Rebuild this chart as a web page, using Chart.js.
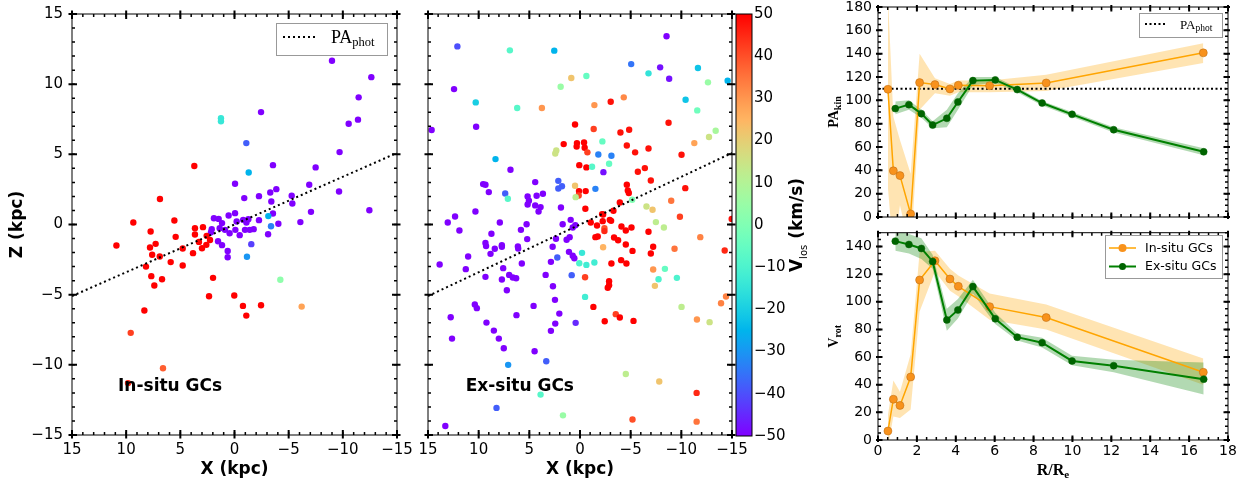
<!DOCTYPE html>
<html>
<head>
<meta charset="utf-8">
<script src="https://cdn.jsdelivr.net/npm/chart.js@4.4.1/dist/chart.umd.min.js"></script>
<style>
  html, body { margin: 0; padding: 0; background: #fff; }
  #wrap { position: relative; width: 1247px; height: 481px; overflow: hidden; }
  canvas { position: absolute; }
</style>
</head>
<body>
<div id="wrap">
  <canvas id="insitu" width="420" height="481" style="left:0;top:0"></canvas>
  <canvas id="exsitu" width="350" height="481" style="left:405px;top:0"></canvas>
  <canvas id="cbar" width="87" height="481" style="left:735px;top:0"></canvas>
  <canvas id="pakin" width="425" height="228" style="left:822px;top:0"></canvas>
  <canvas id="vrot" width="425" height="253" style="left:822px;top:228px"></canvas>
</div>
<script>
// ---- In-situ GCs: projected position (kpc) and line-of-sight velocity (km/s)
const insituX = [-9.0,-12.63,-11.46,-10.54,-11.4,-2.45,-9.7,-3.55,-7.49,-0.05,
  -6.9,-2.26,-0.9,-3.3,-3.86,-3.4,-5.28,-5.34,-9.65,-7.06,
  -12.45,-3.55,-4.05,-6.08,-2.26,-3.1,0.54,-0.05,1.9,1.46,
  1.15,-0.2,-0.8,-1.28,2.1,2.17,1.37,0.88,0.45,-0.08,
  -0.48,-0.97,-1.4,-1.77,-1.1,1.52,1.15,0.63,0.63,-1.55,
  1.25,1.25,-1.09,-1.31,-3.12,-3.37,-1.15,-4.23,-6.2,6.6,9.83,9.58,
  3.71,6.88,9.34,10.9,5.55,7.74,3.65,3.65,2.91,5.43,
  7.8,7.28,7.6,6.9,4.78,3.28,3.83,2.57,2.26,2.6,
  3.0,5.89,4.78,8.17,7.68,7.4,6.69,1.98,2.35,0.02,
  -0.78,-1.09,-2.45,8.32];
const insituZ = [11.67,10.5,9.06,7.18,7.47,8.01,5.16,4.23,4.07,2.9,
  2.83,2.02,1.88,2.28,2.52,1.64,2.05,1.5,2.35,0.9,
  1.02,0.78,0.05,0.17,0.31,-0.69,0.64,0.81,0.45,0.4,
  0.1,0.21,0.33,0.38,-0.33,-0.55,-0.26,-0.38,-0.62,-0.38,
  -0.76,-0.38,-0.38,-0.33,0.14,-1.19,-1.47,-1.88,-2.33,-1.40,
  7.58,7.35,5.8,3.71,0.6,-0.12,-2.3,-3.94,-5.85,-10.24,-11.3,-7.72,
  4.17,1.82,0.14,-1.5,0.29,-0.5,-0.26,-0.71,-0.19,-0.88,
  -1.64,-1.38,-2.16,-2.28,-1.71,-1.24,-2.04,-0.81,-1.1,-1.45,
  -1.69,-2.68,-2.92,-3.0,-3.68,-4.35,-3.9,-3.8,-5.11,-5.06,
  -5.8,-6.49,-5.75,-6.13];
const insituV = [-50,-50,-50,-50,-50,-50,-50,-50,-50,-50,
  -50,-50,-50,-50,-50,-50,-50,-50,-50,-50,
  -50,-50,-50,-50,-50,-50,-50,-50,-50,-50,
  -50,-50,-50,-50,-50,-50,-50,-50,-50,-50,
  -50,-50,-50,-50,-50,-50,-50,-50,-50,-42,
  -14,-14,-38,-25,-25,-33,-30,3,28,38,45,42,
  50,50,50,50,50,50,50,50,50,50,
  50,50,50,50,50,50,50,50,50,50,
  50,50,50,50,50,50,50,50,50,50,
  50,50,50,50];

// ---- Ex-situ GCs
const exsituX = [12.1,6.92,2.54,-8.54,-5.05,-7.91,-8.8,-6.76,-11.64,-12.63,
  -14.57,0.86,-0.63,1.91,12.43,10.29,6.2,3.76,-1.42,-3.03,
  -4.32,-10.42,-11.57,10.25,14.64,0.49,-1.35,-3.99,-4.85,-8.74,
  -13.39,-12.73,-11.28,1.61,0.3,0.33,-0.4,-0.46,-0.73,-2.21,
  2.34,2.44,-1.81,-3.1,-4.62,-5.44,-6.76,-10.02,8.34,0.07,
  -0.63,-1.19,-2.87,-2.31,-5.71,-6.4,-6.99,6.86,9.56,9.33,
  9.0,4.42,2.14,2.14,1.78,0.49,7.38,7.12,5.17,4.28,
  3.66,5.04,5.17,4.42,3.89,4.09,1.88,0.1,-0.56,0.13,
  0.43,-1.52,-0.53,-4.62,-4.72,-4.82,-3.93,-3.3,-2.18,-5.15,
  -9.0,-6.56,-7.16,-10.39,10.32,12.33,13.05,11.9,7.91,5.27,
  5.83,1.71,0.92,0.72,0.46,-1.06,-1.68,-2.24,-2.28,-2.94,
  -3.07,-2.41,-2.41,-4.09,-4.52,-5.08,-6.76,-7.49,-8.28,-9.86,
  -14.97,8.74,5.21,2.37,1.32,1.02,-1.52,-1.75,-3.36,-3.76,
  9.33,9.27,8.41,7.71,7.71,8.83,6.13,6.1,2.7,1.09,
  0.72,0.56,-2.28,-4.52,-5.18,-7.22,-6.99,-9.33,-11.87,-14.28,
  11.04,13.85,11.27,7.58,5.74,2.87,-0.2,0.07,-0.63,-1.42,
  2.24,0.82,-3.1,-4.06,-4.58,9.33,7.71,6.99,6.63,6.3,
  3.39,7.22,2.67,-0.5,-2.87,-2.87,-2.74,-7.22,-8.38,-7.75,
  -7.39,-9.56,-0.5,10.38,10.18,12.76,4.58,2.47,6.27,2.04,
  9.23,2.44,0.43,8.5,2.87,8.01,12.63,7.52,4.48,3.33,
  7.09,-1.32,-3.53,-3.93,-2.44,-5.28,-10.02,-11.54,-12.79,-13.92,
  -14.41,-4.52,-7.82,-11.51,3.89,8.24,1.68,-5.18,-11.51,13.29];
const exsituZ = [12.69,12.41,12.39,13.41,11.43,11.2,10.39,10.77,11.15,10.13,
  10.25,10.44,10.58,9.82,9.65,8.7,8.3,8.3,8.51,8.75,
  9.06,8.89,8.13,6.97,6.73,7.13,6.8,6.56,6.75,7.25,
  6.68,6.23,5.8,5.73,5.8,5.56,5.85,5.47,5.14,5.92,
  5.28,5.06,4.99,4.9,5.63,5.14,5.42,4.97,4.66,4.23,
  4.07,4.11,4.33,3.73,3.76,4.02,3.14,3.9,2.88,2.83,
  2.31,3.02,3.11,2.57,2.73,2.76,2.21,1.83,2.0,2.05,
  2.19,1.69,1.43,1.36,1.24,0.93,1.21,2.38,2.38,2.07,
  1.95,2.54,1.12,2.83,2.43,2.24,1.57,0.98,0.74,1.76,
  1.69,1.28,1.05,2.59,0.93,0.57,0.14,-0.43,0.14,0.02,
  -0.38,0.02,0.33,-0.21,-0.05,0.14,-0.07,0.24,0.71,0.33,
  0.26,-0.26,-0.47,-0.14,-0.43,-0.21,-0.52,0.17,-0.21,0.55,
  0.4,-0.66,-1.04,-1.02,-1.09,-0.9,-0.9,-0.85,-0.93,-1.12,
  -1.31,-1.54,-1.73,-1.47,-1.59,-2.09,-1.57,-1.71,-1.59,-1.95,
  -2.23,-2.4,-1.62,-1.43,-1.88,-1.59,-2.07,-1.73,-0.9,-1.85,
  -2.28,-2.85,-3.18,-3.11,-2.78,-2.66,-2.02,-2.76,-2.88,-2.71,
  -2.35,-3.61,-2.78,-2.54,-2.78,-3.73,-3.92,-3.59,-3.78,-3.83,
  -3.59,-4.68,-4.4,-3.76,-4.04,-4.33,-4.51,-3.21,-3.16,-3.9,
  -4.37,-3.8,-5.16,-5.7,-5.96,-6.61,-5.8,-5.37,-6.46,-6.35,
  -6.99,-7.06,-7.01,-7.56,-7.58,-8.13,-8.13,-8.82,-9.03,-9.74,
  -10.0,-5.87,-6.39,-6.63,-6.89,-6.87,-5.87,-6.77,-6.96,-5.61,
  -5.13,-10.65,-11.19,-12.0,-12.12,-13.07,-13.6,-13.9,-14.05,-14.36];
const exsituV = [-40,-8,-25,-50,-35,-48,-48,-15,-22,5,
  -25,22,-5,5,-50,-20,-8,30,30,48,
  32,-22,-3,-50,-50,50,42,48,48,48,
  8,15,28,50,50,50,50,50,42,-5,
  15,15,-33,-33,48,48,48,48,-25,50,
  50,-8,-5,-48,48,48,48,-50,-50,-50,
  -50,-50,-38,-38,-38,22,-38,-8,-50,-50,
  -50,-50,-50,-50,-50,-50,-50,50,50,42,
  12,-33,50,50,50,50,50,50,50,0,
  35,15,22,48,-50,-50,-50,-50,-50,-50,
  -50,-50,-50,-50,-50,50,50,50,50,50,
  50,40,45,50,50,50,50,12,12,42,
  48,-50,-50,-50,-50,-50,50,50,50,50,
  -50,-50,-50,-50,-50,-50,-50,-50,-50,-50,
  -50,-50,25,50,50,50,50,35,33,45,
  -50,-50,-50,-50,-50,-50,-14,-10,-12,-12,
  -38,-38,50,50,50,-50,-50,-50,-50,-50,
  -50,-50,-50,42,50,50,50,30,-5,-10,
  22,-10,-12,-50,-50,-50,-50,-50,-50,-50,
  -50,-50,-45,-50,-50,-50,-50,-50,-50,-38,
  -30,50,42,50,50,50,12,30,15,33,
  33,12,22,45,-8,-38,5,40,35,-50];

// photometric major axis, drawn across the map
const paPhotX = [15, -15];
const paPhotZ = [-5.1, 5.1];
const vMin = -50, vMax = 50;

// ---- kinematic profiles against R/Re
const rInsitu = [0.51, 0.79, 1.13, 1.68, 2.14, 2.93, 3.70, 4.13, 5.74, 8.65, 16.73];
const paInsitu = [109.5, 39.6, 35.5, 2.6, 115.2, 113.5, 109.8, 112.9, 112.6, 114.9, 140.7];
const paInsituLo = [25, -30, 10, -30, 92, 106, 104, 107, 107, 108, 132];
const paInsituHi = [190, 86, 66, 37, 140, 119, 114, 117, 117, 122, 149];
const vrotInsitu = [6.5, 29.5, 25.0, 45.6, 115.8, 129.7, 116.5, 111.2, 96.5, 88.6, 49.0];
const vrotInsituLo = [-5, 17, 16, 22, 93, 122, 108, 104, 87, 80, 40];
const vrotInsituHi = [18, 43, 35, 62, 136, 137, 124, 119, 106, 98, 59];

const rExsitu = [0.89, 1.59, 2.23, 2.81, 3.54, 4.11, 4.88, 6.03, 7.16, 8.44, 9.98, 12.12, 16.75];
const paExsitu = [92.9, 96.3, 88.6, 78.8, 84.6, 98.6, 116.9, 117.5, 109.2, 97.7, 88.0, 74.8, 55.9];
const paExsituLo = [88, 92, 85, 76, 77, 92, 113, 115, 107, 95.5, 86, 72.5, 53];
const paExsituHi = [99, 100, 92, 82, 92, 106, 120, 120, 111, 99.5, 90, 77, 59];
const vrotExsitu = [143.9, 141.5, 138.6, 129.2, 86.9, 94.1, 111.0, 87.7, 74.4, 70.4, 57.2, 53.8, 44.0];
const vrotExsituLo = [137, 135, 131, 124, 79, 88, 106, 84, 72, 67, 54, 49, 33];
const vrotExsituHi = [152, 149, 146, 134, 95, 102, 116, 92, 77, 74, 61, 58, 56];

const paPhot = 110;
const rRange = [0, 18];

// ---- style
const SANS = 'DejaVu Sans';
const SERIF = 'Liberation Serif';
const ORANGE = '#ffa500';
const ORANGE_MK = '#f8921c';
const ORANGE_BAND = 'rgba(255,165,0,0.3)';
const GREEN = '#008000';
const GREEN_MK = '#006400';
const GREEN_BAND = 'rgba(0,128,0,0.3)';

Chart.defaults.font.family = SANS;
Chart.defaults.color = '#000';

// matplotlib 'rainbow' colormap
function rainbow(v) {
  const t = Math.min(1, Math.max(0, (v - vMin) / (vMax - vMin)));
  const r = Math.min(1, Math.abs(2 * t - 0.5));
  const g = Math.sin(Math.PI * t);
  const b = Math.cos(Math.PI * t / 2);
  return 'rgb(' + Math.round(r * 255) + ',' + Math.round(g * 255) + ',' + Math.round(b * 255) + ')';
}

function fmtTick(v) {
  return v < 0 ? '\u2212' + Math.abs(v) : String(v);
}

function pts(xs, ys) {
  return xs.map((x, i) => ({ x: x, y: ys[i] }));
}

// text made of pieces (for subscripts); y is the baseline
function drawRich(ctx, parts, x, y, angle, align) {
  ctx.save();
  ctx.translate(x, y);
  if (angle) ctx.rotate(angle);
  let total = 0;
  parts.forEach(p => { ctx.font = p[1]; total += ctx.measureText(p[0]).width; });
  let cx = align === 'left' ? 0 : -total / 2;
  ctx.textAlign = 'left';
  ctx.textBaseline = 'alphabetic';
  ctx.fillStyle = '#000';
  parts.forEach(p => {
    ctx.font = p[1];
    ctx.fillText(p[0], cx, p[2]);
    cx += ctx.measureText(p[0]).width;
  });
  ctx.restore();
}

function legendBox(ctx, x, y, w, h) {
  ctx.save();
  ctx.fillStyle = '#fff';
  ctx.strokeStyle = '#999';
  ctx.lineWidth = 1;
  ctx.fillRect(x, y, w, h);
  ctx.strokeRect(x + 0.5, y + 0.5, w, h);
  ctx.restore();
}

function dottedSeg(ctx, x0, x1, y, dash) {
  ctx.save();
  ctx.strokeStyle = '#000';
  ctx.lineWidth = 2;
  ctx.setLineDash(dash);
  ctx.beginPath();
  ctx.moveTo(x0, y);
  ctx.lineTo(x1, y);
  ctx.stroke();
  ctx.restore();
}

// frame with matplotlib-like ticks on all four sides
const framePlugin = {
  id: 'frame',
  afterDatasetsDraw(chart, args, opts) {
    const ctx = chart.ctx;
    const a = chart.chartArea;
    const tickSet = (scale, step, inLen, outLen, width, horiz) => {
      if (!step) return;
      const lo = Math.min(scale.min, scale.max);
      const hi = Math.max(scale.min, scale.max);
      const n0 = Math.ceil(lo / step - 1e-9);
      const n1 = Math.floor(hi / step + 1e-9);
      ctx.lineWidth = width;
      ctx.beginPath();
      for (let n = n0; n <= n1; n++) {
        const p = scale.getPixelForValue(n * step);
        if (horiz) {
          ctx.moveTo(p, a.top - outLen); ctx.lineTo(p, a.top + inLen);
          ctx.moveTo(p, a.bottom + outLen); ctx.lineTo(p, a.bottom - inLen);
        } else {
          ctx.moveTo(a.left - outLen, p); ctx.lineTo(a.left + inLen, p);
          ctx.moveTo(a.right + outLen, p); ctx.lineTo(a.right - inLen, p);
        }
      }
      ctx.stroke();
    };
    ctx.save();
    ctx.strokeStyle = '#000';
    tickSet(chart.scales.x, opts.xMinor, 3, 0, 1.5, true);
    tickSet(chart.scales.x, opts.xMajor, opts.inLen, opts.outLen, 2, true);
    tickSet(chart.scales.y, opts.yMinor, 3, 0, 1.5, false);
    tickSet(chart.scales.y, opts.yMajor, opts.inLen, opts.outLen, 2, false);
    ctx.lineWidth = 1;
    ctx.strokeRect(a.left, a.top, a.right - a.left, a.bottom - a.top);
    ctx.restore();
  }
};

function fixWidth(w) {
  return s => { s.width = w; s.paddingTop = 0; s.paddingBottom = 0; };
}
function fixHeight(h) {
  return s => { s.height = h; s.paddingLeft = 0; s.paddingRight = 0; };
}

// ---- map panels
function mapChart(id, xs, zs, vs, label, showY, padLeft, padRight) {
  const notes = {
    id: 'notes',
    afterDraw(chart) {
      const ctx = chart.ctx;
      ctx.save();
      ctx.font = 'bold 17px ' + SANS;
      ctx.fillStyle = '#000';
      ctx.textAlign = 'left';
      ctx.textBaseline = 'middle';
      ctx.fillText(label.text, chart.scales.x.getPixelForValue(label.x), chart.scales.y.getPixelForValue(label.z));
      ctx.restore();
      if (label.legend) {
        legendBox(ctx, 276, 23, 111, 32);
        dottedSeg(ctx, 283, 315, 37, [2, 3]);
        drawRich(ctx, [['PA', '18px ' + SERIF, 0], ['phot', '12.5px ' + SERIF, 3]], 331, 43, 0, 'left');
      }
    }
  };
  return new Chart(document.getElementById(id), {
    type: 'scatter',
    data: {
      datasets: [
        {
          data: pts(paPhotX, paPhotZ), showLine: true, borderColor: '#000', borderWidth: 2,
          borderDash: [2, 3], pointRadius: 0, order: 0
        },
        {
          data: pts(xs, zs), pointRadius: 3.2, pointHoverRadius: 3.2,
          pointBackgroundColor: vs.map(rainbow), pointBorderWidth: 0, clip: 0, order: 1
        }
      ]
    },
    options: {
      responsive: false,
      animation: false,
      layout: { padding: { left: padLeft, right: padRight, top: 14, bottom: 0 } },
      plugins: {
        legend: { display: false },
        tooltip: { enabled: false },
        frame: { xMajor: 5, xMinor: 1, yMajor: 5, yMinor: 1, inLen: 5, outLen: 3.5 }
      },
      scales: {
        x: {
          type: 'linear', min: -15, max: 15, reverse: true,
          grid: { display: false, drawTicks: false }, border: { display: false },
          ticks: { stepSize: 5, padding: 6, autoSkip: false, maxRotation: 0,
            font: { size: 15 }, callback: fmtTick },
          title: { display: true, text: 'X (kpc)', font: { size: 17, weight: 'bold' },
            padding: { top: 0, bottom: 1 } },
          afterFit: fixHeight(46)
        },
        y: {
          type: 'linear', min: -15, max: 15, display: showY,
          grid: { display: false, drawTicks: false }, border: { display: false },
          ticks: { stepSize: 5, padding: 9, font: { size: 15 }, callback: fmtTick },
          title: { display: true, text: 'Z (kpc)', font: { size: 17, weight: 'bold' },
            padding: { top: 7, bottom: 0 } },
          afterFit: fixWidth(showY ? 72 : 0)
        }
      }
    },
    plugins: [framePlugin, notes]
  });
}

mapChart('insitu', insituX, insituZ, insituV,
  { text: 'In-situ GCs', x: 10.75, z: -11.57, legend: true }, true, 0, 23);
mapChart('exsitu', exsituX, exsituZ, exsituV,
  { text: 'Ex-situ GCs', x: 11.28, z: -11.57, legend: false }, false, 23, 23);

// ---- colour bar
new Chart(document.getElementById('cbar'), {
  type: 'scatter',
  data: { datasets: [] },
  options: {
    responsive: false,
    animation: false,
    layout: { padding: { left: 1, right: 0, top: 14, bottom: 45 } },
    plugins: { legend: { display: false }, tooltip: { enabled: false } },
    scales: {
      x: { type: 'linear', min: 0, max: 1, display: false },
      y: {
        type: 'linear', position: 'right', min: vMin, max: vMax,
        grid: { display: false, drawTicks: false }, border: { display: false },
        ticks: { stepSize: 10, padding: 2, font: { size: 15 }, callback: fmtTick },
        afterFit: fixWidth(70)
      }
    }
  },
  plugins: [{
    id: 'gradient',
    beforeDatasetsDraw(chart) {
      const ctx = chart.ctx;
      const a = chart.chartArea;
      const g = ctx.createLinearGradient(0, a.bottom, 0, a.top);
      for (let i = 0; i <= 40; i++) {
        g.addColorStop(i / 40, rainbow(vMin + (vMax - vMin) * i / 40));
      }
      ctx.save();
      ctx.fillStyle = g;
      ctx.fillRect(a.left, a.top, a.right - a.left, a.bottom - a.top);
      ctx.strokeStyle = '#000';
      ctx.lineWidth = 1;
      ctx.strokeRect(a.left, a.top, a.right - a.left, a.bottom - a.top);
      ctx.restore();
    },
    afterDraw(chart) {
      const a = chart.chartArea;
      drawRich(chart.ctx, [
        ['V', 'bold 17px ' + SANS, 0],
        ['los', '10px ' + SANS, 5],
        [' (km/s)', 'bold 17px ' + SANS, 0]
      ], 67, (a.top + a.bottom) / 2, -Math.PI / 2, 'center');
    }
  }]
});

// ---- radial profiles
function bandPair(xs, lo, hi, color, order) {
  return [
    { data: pts(xs, hi), fill: '+1', backgroundColor: color, borderColor: 'rgba(0,0,0,0)',
      borderWidth: 0, pointRadius: 0, pointHoverRadius: 0, order: order },
    { data: pts(xs, lo), fill: false, borderColor: 'rgba(0,0,0,0)',
      borderWidth: 0, pointRadius: 0, pointHoverRadius: 0, order: order }
  ];
}

function profileLines(rIn, yIn, rEx, yEx) {
  return [
    { data: pts(rIn, yIn), fill: false, borderColor: ORANGE, borderWidth: 1.5,
      pointRadius: 4, pointBackgroundColor: ORANGE_MK, pointBorderColor: 'rgba(190,110,20,0.8)',
      pointBorderWidth: 0.7, order: 2 },
    { data: pts(rEx, yEx), fill: false, borderColor: GREEN, borderWidth: 2,
      pointRadius: 3.5, pointBackgroundColor: GREEN_MK, pointBorderColor: GREEN_MK,
      pointBorderWidth: 0.5, order: 1 }
  ];
}

function profileOptions(yMax, xShown, xHeight, padTop, padBottom) {
  return {
    responsive: false,
    animation: false,
    layout: { padding: { left: 0, right: 19, top: padTop, bottom: padBottom } },
    plugins: {
      legend: { display: false },
      tooltip: { enabled: false },
      frame: { xMajor: 2, xMinor: 0.5, yMajor: 20, yMinor: 5, inLen: 4.5, outLen: 2 }
    },
    scales: {
      x: {
        type: 'linear', min: rRange[0], max: rRange[1], display: xShown,
        grid: { display: false, drawTicks: false }, border: { display: false },
        ticks: { stepSize: 2, padding: 3, autoSkip: false, maxRotation: 0, font: { size: 14 } },
        afterFit: fixHeight(xHeight)
      },
      y: {
        type: 'linear', min: 0, max: yMax,
        grid: { display: false, drawTicks: false }, border: { display: false },
        ticks: { stepSize: 20, padding: 6, includeBounds: false, font: { size: 14 },
          callback: v => (v % 20 === 0 ? String(v) : '') },
        afterFit: fixWidth(56)
      }
    }
  };
}

new Chart(document.getElementById('pakin'), {
  type: 'line',
  data: {
    datasets: [
      ...bandPair(rInsitu, paInsituLo, paInsituHi, ORANGE_BAND, 5),
      ...bandPair(rExsitu, paExsituLo, paExsituHi, GREEN_BAND, 4),
      { data: pts(rRange, [paPhot, paPhot]), fill: false, borderColor: '#000', borderWidth: 2,
        borderDash: [2, 2.5], pointRadius: 0, order: 3 },
      ...profileLines(rInsitu, paInsitu, rExsitu, paExsitu)
    ]
  },
  options: profileOptions(180, false, 0, 7, 11),
  plugins: [framePlugin, {
    id: 'notes',
    afterDraw(chart) {
      const ctx = chart.ctx;
      const a = chart.chartArea;
      legendBox(ctx, 317, 13, 83, 24);
      dottedSeg(ctx, 323, 345, 24, [2, 2.5]);
      drawRich(ctx, [['PA', '13px ' + SERIF, 0], ['phot', '9.5px ' + SERIF, 2.5]], 358, 28.5, 0, 'left');
      drawRich(ctx, [['PA', 'bold 14px ' + SERIF, 0], ['kin', 'bold 10px ' + SERIF, 3]],
        16, (a.top + a.bottom) / 2, -Math.PI / 2, 'center');
    }
  }]
});

new Chart(document.getElementById('vrot'), {
  type: 'line',
  data: {
    datasets: [
      ...bandPair(rInsitu, vrotInsituLo, vrotInsituHi, ORANGE_BAND, 5),
      ...bandPair(rExsitu, vrotExsituLo, vrotExsituHi, GREEN_BAND, 4),
      ...profileLines(rInsitu, vrotInsitu, rExsitu, vrotExsitu)
    ]
  },
  options: profileOptions(150, true, 41, 3, 0),
  plugins: [framePlugin, {
    id: 'notes',
    afterDraw(chart) {
      const ctx = chart.ctx;
      const a = chart.chartArea;
      legendBox(ctx, 283, 7, 117, 43);
      const rows = [['In-situ GCs', ORANGE, ORANGE_MK, 4, 1.5, 20], ['Ex-situ GCs', GREEN, GREEN_MK, 3.5, 2, 38.5]];
      rows.forEach(r => {
        ctx.save();
        ctx.strokeStyle = r[1];
        ctx.lineWidth = r[4];
        ctx.beginPath();
        ctx.moveTo(287, r[5]);
        ctx.lineTo(314, r[5]);
        ctx.stroke();
        ctx.fillStyle = r[2];
        ctx.beginPath();
        ctx.arc(300.5, r[5], r[3], 0, Math.PI * 2);
        ctx.fill();
        ctx.fillStyle = '#000';
        ctx.font = '12.5px ' + SANS;
        ctx.textAlign = 'left';
        ctx.textBaseline = 'middle';
        ctx.fillText(r[0], 323, r[5] + 0.5);
        ctx.restore();
      });
      drawRich(ctx, [['V', 'bold 14px ' + SERIF, 0], ['rot', 'bold 10px ' + SERIF, 3]],
        16, (a.top + a.bottom) / 2, -Math.PI / 2, 'center');
      drawRich(ctx, [['R/R', 'bold 16px ' + SERIF, 0], ['e', 'bold 11px ' + SERIF, 3]],
        (a.left + a.right) / 2, 247, 0, 'center');
    }
  }]
});
</script>
</body>
</html>
